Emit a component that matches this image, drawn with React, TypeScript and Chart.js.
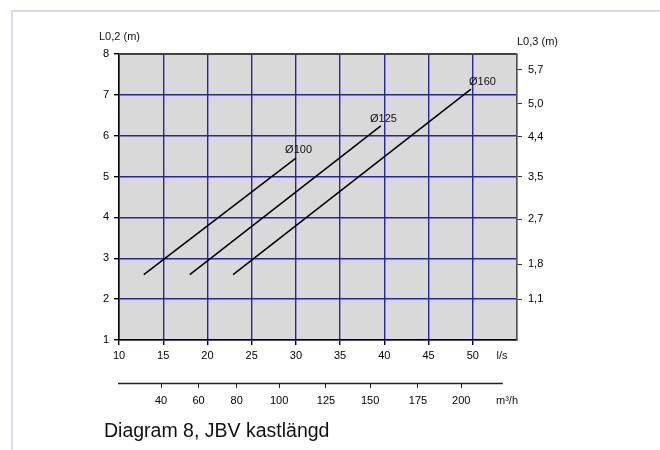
import React, { useEffect, useRef } from "react";
import { Chart, registerables } from "chart.js";
Chart.register(...registerables);

// Series (x in l/s, y in L0,2 metres)
const seriesNames = ["Ø100", "Ø125", "Ø160"];
const d100X = [12.8, 30.0];
const d100Y = [2.6, 5.45];
const d125X = [18.0, 39.6];
const d125Y = [2.6, 6.24];
const d160X = [22.9, 49.8];
const d160Y = [2.6, 7.14];
const labelX = [30.3, 39.9, 51.1];
const labelY = [5.65, 6.41, 7.31];

// Right axis (L0,3) tick labels and their positions on the L0,2 scale
const rightTickLabels = ["1,1", "1,8", "2,7", "3,5", "4,4", "5,0", "5,7"];
const rightTickPos = [2.0, 2.86, 3.96, 4.99, 5.97, 6.78, 7.61];

// Secondary flow axis (m³/h) labels and their positions on the l/s scale
const m3hLabels = ["40", "60", "80", "100", "125", "150", "175", "200"];
const m3hPos = [14.75, 19.0, 23.3, 28.1, 33.4, 38.4, 43.8, 48.7];
const m3hAxisEnd = 53.4;

const FONT = "Arial, 'Liberation Sans', sans-serif";
const GRID = "#2626a2";

const toPts = (xs: number[], ys: number[]) => xs.map((x, i) => ({ x, y: ys[i] }));

const overlay = {
  id: "overlay",
  beforeDraw(chart: any) {
    const { ctx, chartArea: a, width, height } = chart;
    ctx.save();
    ctx.fillStyle = "#ffffff";
    ctx.fillRect(0, 0, width, height);
    ctx.fillStyle = "#d9d9d9";
    ctx.fillRect(a.left, a.top, a.right - a.left, a.bottom - a.top);
    ctx.restore();
  },
  afterDraw(chart: any) {
    const { ctx, chartArea: a, scales } = chart;
    ctx.save();
    ctx.strokeStyle = "#444";
    ctx.lineWidth = 1;
    ctx.beginPath();
    ctx.moveTo(a.left, a.top + 0.5);
    ctx.lineTo(a.right, a.top + 0.5);
    ctx.stroke();

    // secondary axis line
    const x2 = scales.x2;
    ctx.strokeStyle = "#222";
    ctx.lineWidth = 1.5;
    ctx.beginPath();
    ctx.moveTo(x2.left - 1, x2.top + 0.5);
    ctx.lineTo(x2.getPixelForValue(m3hAxisEnd), x2.top + 0.5);
    ctx.stroke();

    ctx.fillStyle = "#111";
    ctx.font = `11px ${FONT}`;
    ctx.textAlign = "center";
    ctx.textBaseline = "middle";
    seriesNames.forEach((n, i) => {
      ctx.fillText(n, scales.x.getPixelForValue(labelX[i]), scales.y.getPixelForValue(labelY[i]));
    });
    ctx.textAlign = "left";
    ctx.fillText("L0,2 (m)", a.left - 20, a.top - 17);
    ctx.fillText("L0,3 (m)", a.right, a.top - 12);
    ctx.textAlign = "center";
    ctx.fillText("l/s", a.right - 15, a.bottom + 16);
    ctx.fillText("m³/h", a.right - 10, a.bottom + 61);
    ctx.restore();
  },
};

export default function App() {
  const ref = useRef<HTMLCanvasElement>(null);
  useEffect(() => {
    if (!ref.current) return;
    const mk = (xs: number[], ys: number[]) => ({
      data: toPts(xs, ys),
      borderColor: "#000",
      borderWidth: 1.5,
      pointRadius: 0,
      fill: false,
      tension: 0,
      xAxisID: "x",
      yAxisID: "y",
    });
    const chart = new Chart(ref.current, {
      type: "line",
      data: {
        datasets: [mk(d100X, d100Y), mk(d125X, d125Y), mk(d160X, d160Y)],
      },
      options: {
        animation: false,
        responsive: false,
        layout: { padding: { top: 54, left: 0, right: 0, bottom: 0 } },
        plugins: { legend: { display: false }, tooltip: { enabled: false }, title: { display: false } },
        scales: {
          x: {
            type: "linear",
            position: "bottom",
            weight: 0,
            min: 10,
            max: 55,
            afterFit: (s: any) => { s.height = 43; },
            ticks: {
              stepSize: 5,
              autoSkip: false,
              maxRotation: 0,
              padding: 4,
              color: "#000",
              font: { family: FONT, size: 11 },
              callback: (v: any) => (v === 55 ? "" : String(v)),
            },
            grid: {
              color: (c: any) => (c.tick && c.tick.value === 55 ? "#555" : GRID),
              tickColor: (c: any) => (c.tick && c.tick.value === 55 ? "rgba(0,0,0,0)" : "#000"),
              tickLength: 5,
              lineWidth: 1.4,
            },
            border: { color: "#000", width: 1.5 },
          },
          x2: {
            type: "linear",
            position: "bottom",
            weight: 1,
            min: 10,
            max: 55,
            afterFit: (s: any) => { s.height = 67; },
            afterBuildTicks: (s: any) => { s.ticks = m3hPos.map((v) => ({ value: v })); },
            ticks: {
              autoSkip: false,
              maxRotation: 0,
              padding: 6,
              color: "#000",
              font: { family: FONT, size: 11 },
              callback: (_v: any, i: number) => m3hLabels[i],
            },
            grid: { drawOnChartArea: false, tickLength: 5, tickColor: "#222" },
            border: { display: false },
          },
          y: {
            type: "linear",
            position: "left",
            min: 1,
            max: 8,
            afterFit: (s: any) => { s.width = 119; },
            ticks: {
              stepSize: 1,
              padding: 5,
              color: "#000",
              font: { family: FONT, size: 11 },
            },
            grid: {
              color: (c: any) => (c.tick && c.tick.value === 8 ? "#444" : GRID),
              tickColor: "#000",
              tickLength: 5,
              lineWidth: 1.4,
            },
            border: { color: "#000", width: 1.5 },
          },
          y2: {
            type: "linear",
            position: "right",
            min: 1,
            max: 8,
            afterFit: (s: any) => { s.width = 143; },
            afterBuildTicks: (s: any) => { s.ticks = rightTickPos.map((v) => ({ value: v })); },
            ticks: {
              padding: 6,
              color: "#000",
              font: { family: FONT, size: 11 },
              callback: (_v: any, i: number) => rightTickLabels[i],
            },
            grid: { drawOnChartArea: false, tickLength: 5, tickColor: "#333" },
            border: { color: "#555", width: 1.5 },
          },
        },
      } as any,
      plugins: [overlay],
    });
    return () => chart.destroy();
  }, []);

  return (
    <div style={{ position: "absolute", left: 0, top: 0, width: 660, height: 450, overflow: "hidden", background: "#fff" }}>
      <canvas ref={ref} width={660} height={450} style={{ position: "absolute", left: 0, top: 0 }} />
      <div
        style={{
          position: "absolute",
          left: 11,
          top: 10,
          width: 660,
          height: 450,
          borderLeft: "2px solid #d6dbf2",
          borderTop: "2px solid #d6dbf2",
          pointerEvents: "none",
        }}
      />
      <div
        style={{
          position: "absolute",
          left: 104,
          top: 420,
          fontFamily: FONT,
          fontSize: 19.5,
          lineHeight: "20px",
          color: "#111",
          whiteSpace: "nowrap",
        }}
      >
        Diagram 8, JBV kastlängd
      </div>
    </div>
  );
}
